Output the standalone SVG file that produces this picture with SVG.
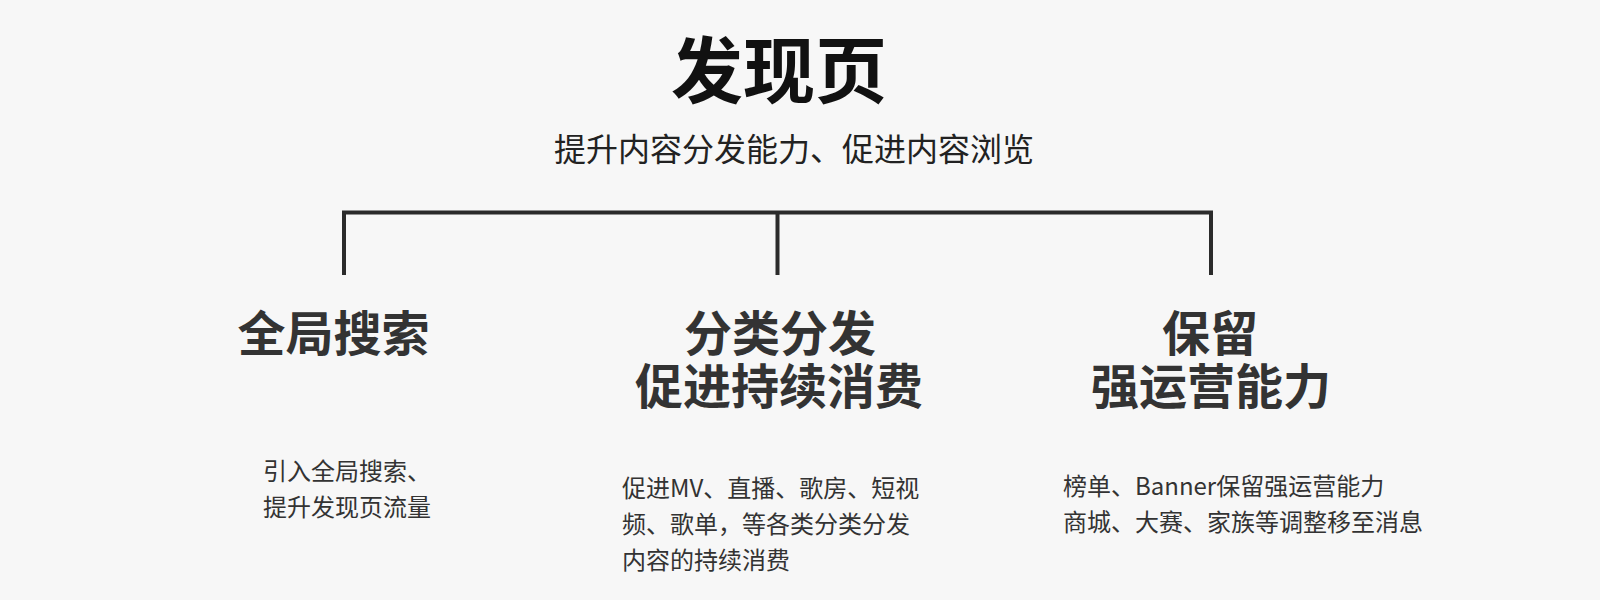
<svg xmlns="http://www.w3.org/2000/svg" width="1600" height="600" viewBox="0 0 1600 600">
<style>
text { font-family: "Noto Sans CJK SC", "Noto Sans", sans-serif; }
.title { font-size: 72px; font-weight: 700; fill: #111111; text-anchor: middle; }
.sub { font-size: 32px; font-weight: 400; fill: #222222; }
.head { font-size: 48px; font-weight: 700; fill: #333333; text-anchor: middle; }
.body { font-size: 24px; font-weight: 400; fill: #333333; }
.conn { fill: none; stroke: #2b2b2b; stroke-width: 4; stroke-linecap: butt; stroke-linejoin: miter; }
</style>
<rect x="0" y="0" width="1600" height="600" fill="#f7f7f7"/>
<g id="root">
<text class="title" x="779" y="97">发现页</text>
<text class="sub" x="554" y="161">提升内容分发能力、促进内容浏览</text>
</g>
<g id="connectors">
<path class="conn" d="M344,275 V212.5 H1211 V275"/>
<path class="conn" d="M777.5,212.5 V275"/>
</g>
<g id="node-search">
<text class="head" x="333.5" y="351">全局搜索</text>
<text class="body" x="263" y="480">引入全局搜索、</text>
<text class="body" x="263" y="516">提升发现页流量</text>
</g>
<g id="node-distribute">
<text class="head" x="780" y="351">分类分发</text>
<text class="head" x="779" y="404">促进持续消费</text>
<text class="body" x="622" y="497">促进MV、直播、歌房、短视</text>
<text class="body" x="622" y="533">频、歌单，等各类分类分发</text>
<text class="body" x="622" y="569">内容的持续消费</text>
</g>
<g id="node-retain">
<text class="head" x="1210" y="351">保留</text>
<text class="head" x="1211" y="404">强运营能力</text>
<text class="body" x="1063" y="495">榜单、Banner保留强运营能力</text>
<text class="body" x="1063" y="531">商城、大赛、家族等调整移至消息</text>
</g>
</svg>
